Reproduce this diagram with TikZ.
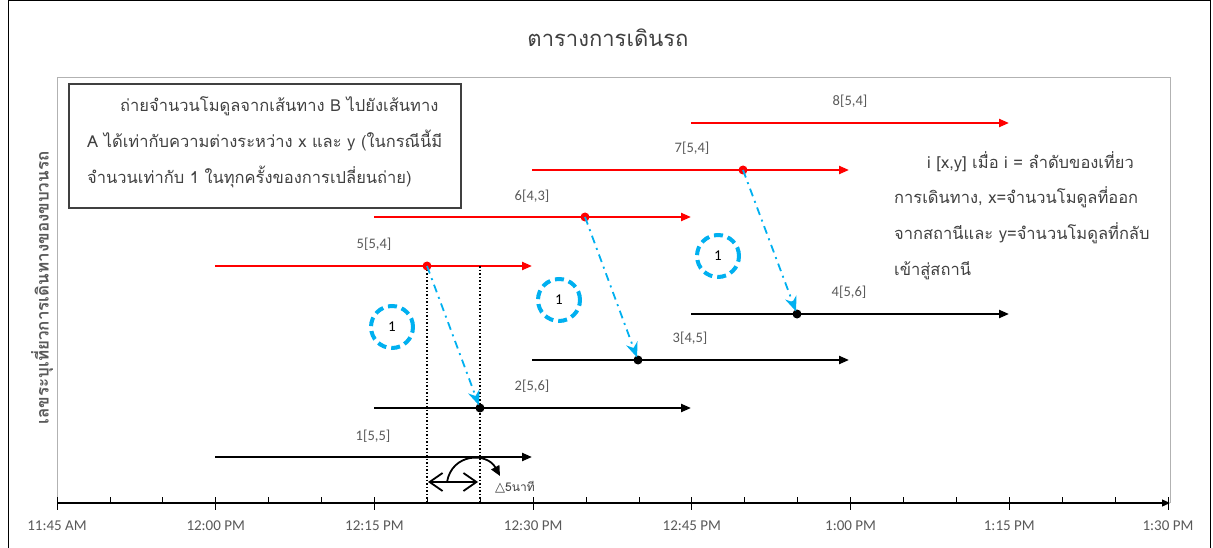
\documentclass[tikz,border=0pt]{standalone}
\usepackage{fontspec}
\usetikzlibrary{arrows.meta}
\newfontfamily\thaifont[Script=Thai]{Loma}
\newfontfamily\calfont{Carlito}
\newfontfamily\symfont{DejaVu Sans}
\definecolor{txtgray}{HTML}{404040}
\definecolor{lblgray}{HTML}{595959}
\definecolor{bluec}{HTML}{00B0F0}
\definecolor{redc}{HTML}{FF0000}
\tikzset{
  blkline/.style={line width=2.2pt, black, -{Triangle[length=10pt,width=8pt]}},
  redline/.style={line width=2.2pt, redc, -{Triangle[length=10pt,width=8pt]}},
  tripl/.style={font=\calfont\fontsize{14.5}{16}\selectfont, text=lblgray},
  bdot/.style={circle, fill=black, inner sep=0pt, minimum size=9pt},
  rdot/.style={circle, fill=redc, inner sep=0pt, minimum size=9pt},
  xfer/.style={bluec, line width=1.8pt, dash pattern=on 8pt off 5pt on 2pt off 5pt, -{Stealth[length=15pt,width=12pt]}, shorten >=-2pt},
  cnt/.style={circle, draw=bluec, line width=4pt, dash pattern=on 9pt off 5pt, minimum size=42pt, inner sep=0pt, font=\calfont\fontsize{15}{16}\selectfont, text=black},
  vdot/.style={black, line width=1.5pt, dotted},
  ticklbl/.style={font=\calfont\fontsize{15}{16}\selectfont, text=lblgray},
}
\begin{document}
\begin{tikzpicture}[x=1pt,y=-1pt]
\useasboundingbox (0,0) rectangle (1213,548);
% outer frame
\draw[black, line width=1pt] (8,548) -- (8,1) -- (1210,1) -- (1210,548);
% plot area
\draw[gray!60, line width=0.8pt] (57,503) -- (57,77) -- (1170,77) -- (1170,503);
% title
\node[font=\thaifont\fontsize{22}{26}\selectfont, text=txtgray] (title) at (608,38) {ตารางการเดินรถ};
% y label
\node[font=\thaifont\bfseries\fontsize{17}{20}\selectfont, text=lblgray, rotate=90] (ylab) at (42,288) {เลขระบุเที่ยวการเดินทางของขบวนรถ};
% axis
\coordinate (ax0) at (57,503);
\coordinate (ax1) at (1170,503);
\draw[black, line width=1.2pt, -{Triangle[length=8pt,width=7pt]}] (ax0) -- (ax1);
\foreach \k/\t in {0/11:45 AM,1/12:00 PM,2/12:15 PM,3/12:30 PM,4/12:45 PM,5/1:00 PM,6/1:15 PM,7/1:30 PM}{
  \pgfmathsetmacro{\xx}{57+\k*158.71}
  \draw[black, line width=0.8pt] (\xx,497) -- (\xx,510);
  \node[ticklbl] at (\xx,526) {\t};
}
\foreach \k in {0,...,6}{
  \foreach \m in {1,2}{
    \pgfmathsetmacro{\xx}{57+\k*158.71+\m*52.9}
    \draw[black, line width=0.8pt] (\xx,497) -- (\xx,503);
  }
}
% trips (black)
\coordinate (s1) at (215,457); \coordinate (e1) at (532,457);
\coordinate (s2) at (374,408); \coordinate (e2) at (691,408);
\coordinate (s3) at (532,360); \coordinate (e3) at (849,360);
\coordinate (s4) at (691,314); \coordinate (e4) at (1009,314);
\draw[blkline] (s1) -- (e1);
\draw[blkline] (s2) -- (e2);
\draw[blkline] (s3) -- (e3);
\draw[blkline] (s4) -- (e4);
\node[tripl] (l1) at (373,436) {1[5,5]};
\node[tripl] (l2) at (532,386) {2[5,6]};
\node[tripl] (l3) at (690,338) {3[4,5]};
\node[tripl] (l4) at (849,292) {4[5,6]};
% trips (red)
\coordinate (s5) at (215,266); \coordinate (e5) at (532,266);
\coordinate (s6) at (374,217); \coordinate (e6) at (691,217);
\coordinate (s7) at (532,170); \coordinate (e7) at (849,170);
\coordinate (s8) at (691,123); \coordinate (e8) at (1009,123);
\draw[redline] (s5) -- (e5);
\draw[redline] (s6) -- (e6);
\draw[redline] (s7) -- (e7);
\draw[redline] (s8) -- (e8);
\node[tripl] (l5) at (374,244) {5[5,4]};
\node[tripl] (l6) at (532,196) {6[4,3]};
\node[tripl] (l7) at (692,148) {7[5,4]};
\node[tripl] (l8) at (850,101) {8[5,4]};
% dotted verticals
\coordinate (v1b) at (427,503); \coordinate (v2t) at (480,266); \coordinate (v2b) at (480,503);
\draw[vdot] (427,266) -- (v1b);
\draw[vdot] (v2t) -- (v2b);
% dots
\node[rdot] (r5) at (427,266) {};
\node[rdot] (r6) at (585,217) {};
\node[rdot] (r7) at (743,170) {};
\node[bdot] (b2) at (480,408) {};
\node[bdot] (b3) at (638,360) {};
\node[bdot] (b4) at (797,314) {};
% transfers
\draw[xfer] (r5.center) -- (b2);
\draw[xfer] (r6.center) -- (b3);
\draw[xfer] (r7.center) -- (b4);
% counts
\node[cnt] (c1) at (392,327) {1};
\node[cnt] (c2) at (559,300) {1};
\node[cnt] (c3) at (718,256) {1};
% 5 minutes
\coordinate (da) at (428,482); \coordinate (db) at (478,482);
\draw[black, line width=1.8pt, {Straight Barb[length=13pt,width=18pt]}-{Straight Barb[length=13pt,width=18pt]}] (da) -- (db);
\coordinate (ca) at (447,482); \coordinate (cb) at (500,476);
\draw[black, line width=1.8pt, -{Triangle[length=10pt,width=9pt]}] (ca) .. controls (452,453) and (487,452) .. (cb);
\node[anchor=west, inner sep=0pt, text=txtgray] (five) at (495,487) {{\symfont\fontsize{13}{14}\selectfont △}{\thaifont\fontsize{12}{14}\selectfont 5นาที}};
% note box
\node[draw=txtgray, line width=2pt, minimum width=392pt, minimum height=124pt, anchor=north west, inner sep=0pt] (box) at (68,83) {};
\node[anchor=north west, align=left, inner sep=0pt, text=txtgray, font=\thaifont\fontsize{16.5}{36}\selectfont] (boxtxt) at (87,96) {\hspace{33pt}ถ่ายจำนวนโมดูลจากเส้นทาง B ไปยังเส้นทาง\\A ได้เท่ากับความต่างระหว่าง x และ y (ในกรณีนี้มี\\จำนวนเท่ากับ 1 ในทุกครั้งของการเปลี่ยนถ่าย)};
% legend text
\node[anchor=north west, align=left, inner sep=0pt, text=txtgray, font=\thaifont\fontsize{16.5}{35.7}\selectfont] (legend) at (894,151) {\hspace{33pt}i [x,y] เมื่อ i = ลำดับของเที่ยว\\การเดินทาง, x=จำนวนโมดูลที่ออก\\จากสถานีและ y=จำนวนโมดูลที่กลับ\\เข้าสู่สถานี};
\end{tikzpicture}
\end{document}
